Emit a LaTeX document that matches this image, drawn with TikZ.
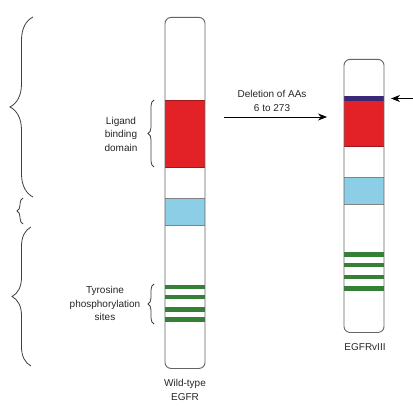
\documentclass[tikz,border=0pt]{standalone}
\usepackage{fontspec}
\setmainfont{Liberation Sans}
\usetikzlibrary{arrows.meta,decorations.pathreplacing}
\definecolor{barline}{RGB}{100,100,100}
\definecolor{ligred}{RGB}{226,34,38}
\definecolor{tmblue}{RGB}{140,206,230}
\definecolor{tyrgreen}{RGB}{52,128,52}
\definecolor{delpurple}{RGB}{60,40,120}
\tikzset{
  barframe/.style={draw=barline, line width=0.9pt, rounded corners=6pt},
  band/.style={draw=none},
  lbl/.style={font=\fontsize{10}{13.5}\selectfont, align=center, text=black!85},
  bigbrace/.style={draw=black!75, line width=0.8pt, decorate, decoration={brace, amplitude=#1}},
  arr/.style={draw=black, line width=0.8pt, -{Stealth[length=9pt,width=7pt]}}
}
\begin{document}
\begin{tikzpicture}[x=1pt,y=-1pt]
\useasboundingbox (0,0) rectangle (412,412);
\fill[white] (0,0) rectangle (412,412);
% ---- wild-type bar
\fill[ligred] (165,100) rectangle (205,167);
\fill[tmblue] (165,198) rectangle (205,225);
\draw[barline!80, line width=0.5pt] (165,198) -- (205,198) (165,225) -- (205,225);
\draw[ligred!70!black, line width=0.5pt] (165,100) -- (205,100) (165,167) -- (205,167);
\foreach \y in {287,297,309.5,319.5}{
  \fill[tyrgreen] (165,\y-2.3) rectangle (205,\y+2.3);
}
\node[barframe, minimum width=40pt, minimum height=351pt, inner sep=0pt, anchor=north] (wt) at (185,17) {};
\node[lbl, anchor=north] (wtlabel) at (185,376) {Wild-type\\EGFR};
% ---- EGFRvIII bar
\fill[delpurple] (344,96) rectangle (384,101);
\fill[ligred] (344,101) rectangle (384,146);
\draw[ligred!70!black, line width=0.5pt] (344,146) -- (384,146);
\fill[tmblue] (344,177) rectangle (384,204);
\draw[barline!80, line width=0.5pt] (344,177) -- (384,177) (344,204) -- (384,204);
\foreach \y in {254.5,265,277,288.5}{
  \fill[tyrgreen] (344,\y-2.3) rectangle (384,\y+2.3);
}
\node[barframe, minimum width=40pt, minimum height=273pt, inner sep=0pt, anchor=north] (v3) at (364,59) {};
\node[lbl, anchor=north] (v3label) at (365,340) {EGFRvIII};
% ---- labels and small braces
\node[lbl] (lig) at (121,134) {Ligand\\binding\\domain};
\draw[bigbrace=6pt] (154,167) -- (154,100);
\node[lbl] (tyr) at (105,303.5) {Tyrosine\\phosphorylation\\sites};
\draw[bigbrace=6pt] (154,324) -- (154,284);
% ---- left large braces
\draw[bigbrace=23pt] (33,197) -- (33,17);
\draw[bigbrace=6pt] (23,224) -- (23,198);
\draw[bigbrace=19pt] (31,366) -- (31,227);
% ---- deletion arrow
\node[lbl] (del) at (272,101) {Deletion of AAs\\6 to 273};
\coordinate (arrstart) at (224,117);
\coordinate (arrend) at (327,117);
\draw[arr] (arrstart) -- (arrend);
\coordinate (edge) at (413,98.5);
\coordinate (ptip) at (391,98.5);
\draw[arr] (edge) -- (ptip);
\end{tikzpicture}
\end{document}
